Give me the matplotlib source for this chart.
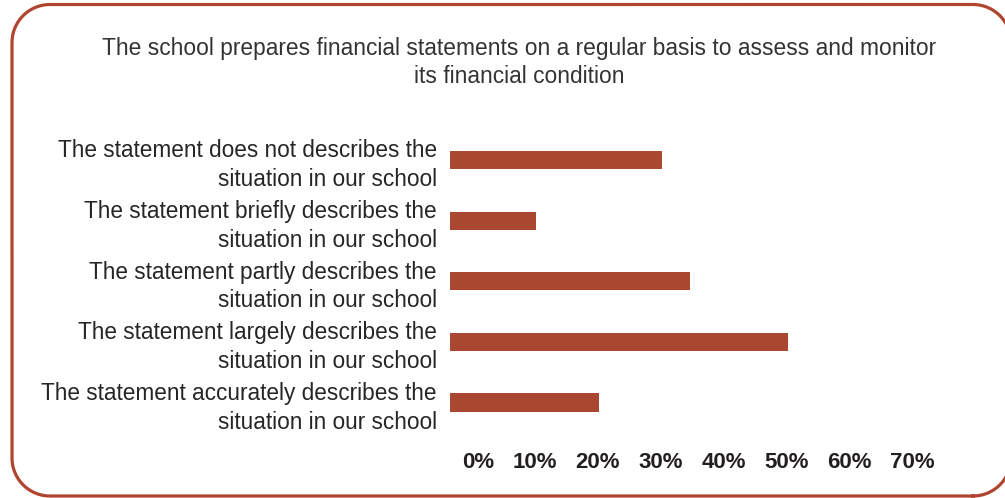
import matplotlib
matplotlib.use("Agg")
import matplotlib.pyplot as plt
import matplotlib.transforms as mtransforms
import numpy as np

# Survey answers, listed from the bottom bar to the top bar
categories = [
    "The statement accurately describes the\nsituation in our school",
    "The statement largely describes the\nsituation in our school",
    "The statement partly describes the\nsituation in our school",
    "The statement briefly describes the\nsituation in our school",
    "The statement does not describes the\nsituation in our school",
]
shares = [20, 50, 34.5, 10, 30]  # percent of schools
tick_values = [0, 10, 20, 30, 40, 50, 60, 70]
tick_labels = ["0%", "10%", "20%", "30%", "40%", "50%", "60%", "70%"]
title = ("The school prepares financial statements on a regular basis to assess and monitor\n"
         "its financial condition")

BAR_COLOR = "#AA4731"
FRAME_COLOR = "#B0452F"
W, H = 1005, 498

plt.rcParams["font.family"] = ["Liberation Sans", "DejaVu Sans"]

fig = plt.figure(figsize=(W / 100, H / 100), dpi=100)


def rounded_outline(x0, y0, x1, y1, r, n=40):
    # closed outline of a rectangle with quarter-circle corners
    xs, ys = [], []
    corners = [(x1 - r, y0 + r, 270), (x1 - r, y1 - r, 0),
               (x0 + r, y1 - r, 90), (x0 + r, y0 + r, 180)]
    for cx, cy, start in corners:
        t = np.radians(np.linspace(start, start + 90, n))
        xs.extend(cx + r * np.cos(t))
        ys.extend(cy + r * np.sin(t))
    xs.append(xs[0])
    ys.append(ys[0])
    return xs, ys


# frame drawn in pixel coordinates (y grows upwards)
bg = fig.add_axes([0, 0, 1, 1])
bg.set_xlim(0, W)
bg.set_ylim(0, H)
bg.axis("off")
fx, fy = rounded_outline(12, 2, 1011, 493.5, 38)
bg.plot(fx, fy, color=FRAME_COLOR, linewidth=2.3, solid_joinstyle="round")

# bars hang a little to the left of the zero line
overhang = 3.65
ax = fig.add_axes([450 / W, 0.1309, (945.5 - 450) / W, 0.6087])
ax.barh(range(len(categories)), [s + overhang for s in shares],
        left=-overhang, height=0.297, color=BAR_COLOR)
ax.set_xlim(-overhang, 75)
ax.set_ylim(-0.5, len(categories) - 0.5)

ax.set_yticks(range(len(categories)))
ax.set_yticklabels(categories, fontsize=16.25, color="#262626", ha="right",
                   linespacing=1.31)
ax.tick_params(axis="y", length=0, pad=9.4)

ax.set_xticks(tick_values)
ax.set_xticklabels(tick_labels, fontsize=16, fontweight="bold", color="#231F20", ha="right")
ax.tick_params(axis="x", length=0, pad=14)
shift = mtransforms.ScaledTranslation(21 / 100, 0, fig.dpi_scale_trans)
for lbl in ax.get_xticklabels():
    lbl.set_transform(lbl.get_transform() + shift)

for side in ax.spines.values():
    side.set_visible(False)
ax.patch.set_alpha(0)

fig.text(519 / W, 1 - 83 / H, title, ha="center", va="baseline",
         fontsize=16.4, color="#333333", linespacing=1.3)

fig.savefig("out.png", dpi=100)
